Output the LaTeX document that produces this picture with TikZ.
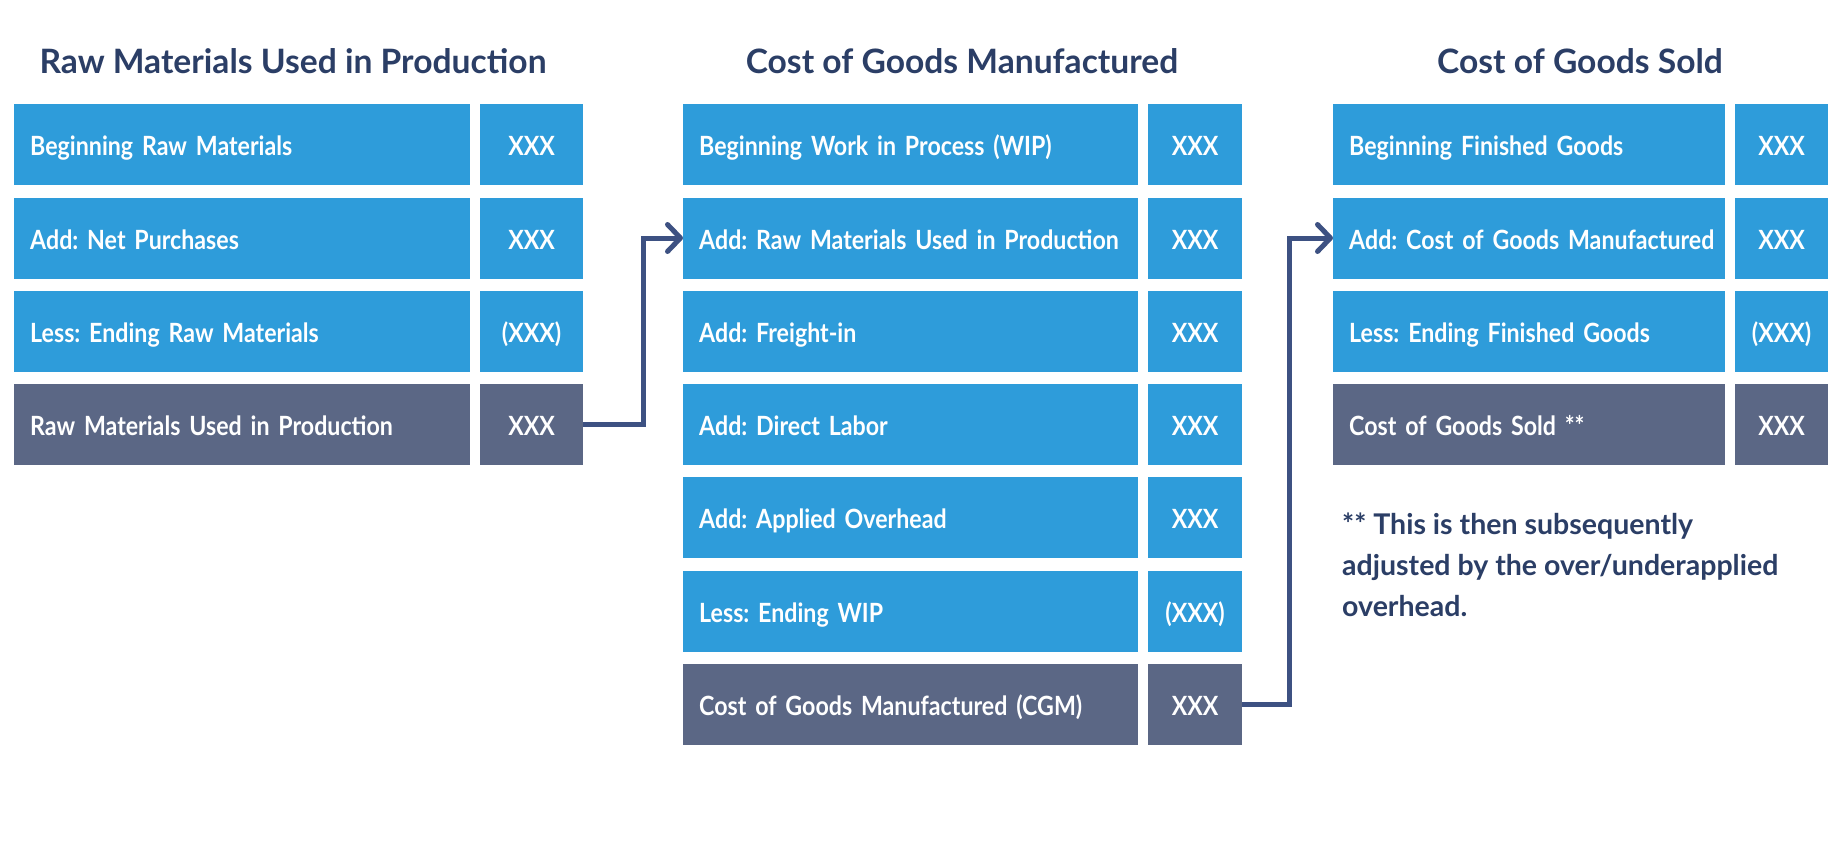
\documentclass[tikz,border=0pt]{standalone}
\usepackage{fontspec}
\setmainfont{Lato}
\newfontfamily\boxfont{Lato}[FakeStretch=0.875]
\usetikzlibrary{arrows.meta,positioning}
\definecolor{cellblue}{HTML}{2E9CDA}
\definecolor{cellgray}{HTML}{5B6785}
\definecolor{headnavy}{HTML}{2B3E66}
\definecolor{linknavy}{HTML}{3D5182}

\tikzset{
  cell/.style={anchor=north west,fill=cellblue,text=white,minimum height=81pt,
    inner xsep=16pt,inner ysep=0pt,text height=22pt,text depth=0pt,
    font=\boxfont\bfseries\frenchspacing\fontsize{26.5}{30}\selectfont},
  item/.style={cell,align=left,text width=#1-32pt,minimum width=#1,
    execute at begin node=\hbox to\linewidth\bgroup,
    execute at end node=\hss\egroup},
  amount/.style={cell,anchor=west,minimum width=#1,align=center,right=9.5pt},
  total/.style={fill=cellgray},
  heading/.style={anchor=base,text=headnavy,font=\bfseries\fontsize{33.6}{40}\selectfont},
  link/.style={draw=linknavy,line width=5pt,
    -{Straight Barb[length=13pt,width=27pt,line cap=round,line join=round]}},
}

\begin{document}
\begin{tikzpicture}[x=1pt,y=-1pt]
\useasboundingbox[fill=white] (0,0) rectangle (1846,852);
% ---- raw materials used ----
\node[heading] (rmhead) at (293,73) {Raw Materials Used in Production};
\node[item=456pt] (rm1) at (14,104) {Beginning Raw Materials};
\node[amount=103pt] (rm1v) at (rm1.east) {XXX};
\node[item=456pt] (rm2) at (14,197.3) {Add: Net Purchases};
\node[amount=103pt] (rm2v) at (rm2.east) {XXX};
\node[item=456pt] (rm3) at (14,290.6) {Less: Ending Raw Materials};
\node[amount=103pt] (rm3v) at (rm3.east) {(XXX)};
\node[item=456pt,total] (rm4) at (14,383.9) {Raw Materials Used in Production};
\node[amount=103pt,total] (rm4v) at (rm4.east) {XXX};
% ---- cost of goods manufactured ----
\node[heading] (cgmhead) at (962,73) {Cost of Goods Manufactured};
\node[item=455pt] (cgm1) at (683,104) {Beginning Work in Process (WIP)};
\node[amount=94pt] (cgm1v) at (cgm1.east) {XXX};
\node[item=455pt] (cgm2) at (683,197.3) {Add: Raw Materials Used in Production};
\node[amount=94pt] (cgm2v) at (cgm2.east) {XXX};
\node[item=455pt] (cgm3) at (683,290.6) {Add: Freight-in};
\node[amount=94pt] (cgm3v) at (cgm3.east) {XXX};
\node[item=455pt] (cgm4) at (683,383.9) {Add: Direct Labor};
\node[amount=94pt] (cgm4v) at (cgm4.east) {XXX};
\node[item=455pt] (cgm5) at (683,477.2) {Add: Applied Overhead};
\node[amount=94pt] (cgm5v) at (cgm5.east) {XXX};
\node[item=455pt] (cgm6) at (683,570.5) {Less: Ending WIP};
\node[amount=94pt] (cgm6v) at (cgm6.east) {(XXX)};
\node[item=455pt,total] (cgm7) at (683,663.8) {Cost of Goods Manufactured (CGM)};
\node[amount=94pt,total] (cgm7v) at (cgm7.east) {XXX};
% ---- cost of goods sold ----
\node[heading] (cgshead) at (1580,73) {Cost of Goods Sold};
\node[item=392pt] (cgs1) at (1333,104) {Beginning Finished Goods};
\node[amount=93pt] (cgs1v) at (cgs1.east) {XXX};
\node[item=392pt] (cgs2) at (1333,197.3) {Add: Cost of Goods Manufactured};
\node[amount=93pt] (cgs2v) at (cgs2.east) {XXX};
\node[item=392pt] (cgs3) at (1333,290.6) {Less: Ending Finished Goods};
\node[amount=93pt] (cgs3v) at (cgs3.east) {(XXX)};
\node[item=392pt,total] (cgs4) at (1333,383.9) {Cost of Goods Sold **};
\node[amount=93pt,total] (cgs4v) at (cgs4.east) {XXX};
% footnote (base = last line)
\node[anchor=base west,inner sep=0pt,align=left,text=headnavy,
  font=\bfseries\fontsize{28.5}{41}\selectfont] (note) at (1342,616)
  {** This is then subsequently\\adjusted by the over/underapplied\\overhead.};
% ---- links between schedules ----
\draw[link] (rm4v.east) -- ++(60,0) |- (cgm2.west);
\draw[link] (cgm7v.east) -- ++(47,0) |- (cgs2.west);
\end{tikzpicture}
\end{document}
